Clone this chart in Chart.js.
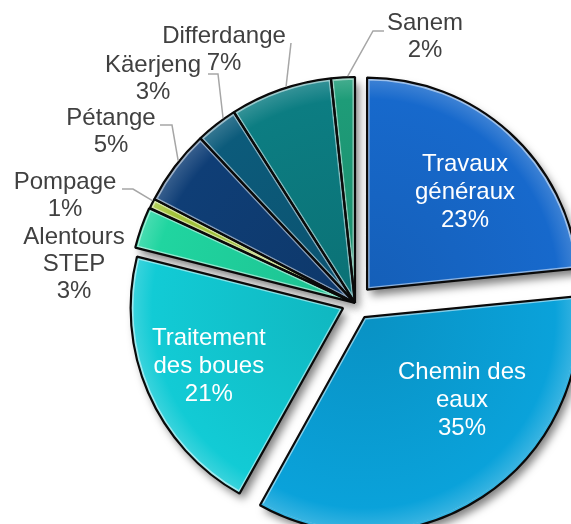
<!DOCTYPE html>
<html>
<head>
<meta charset="utf-8">
<script src="https://cdn.jsdelivr.net/npm/chart.js@4/dist/chart.umd.min.js"></script>
<style>
  html, body { margin: 0; padding: 0; background: #fff; overflow: hidden; }
  canvas { display: block; }
</style>
</head>
<body>
<canvas id="pie" width="571" height="524"></canvas>
<script>
// catégories (lignes du libellé) et parts, dans l'ordre horaire depuis midi
const CATEGORIES = [
  ["Travaux", "généraux"],
  ["Chemin des", "eaux"],
  ["Traitement", "des boues"],
  ["Alentours", "STEP"],
  ["Pompage"],
  ["Pétange"],
  ["Käerjeng"],
  ["Differdange"],
  ["Sanem"],
];
const SHARES = [23.4, 34.7, 20.8, 3.0, 0.7, 5.4, 3.0, 7.3, 1.7];

// style
const FILLS = ["#1769cc", "#0aa2da", "#12cbd5", "#20d5a0", "#a3c43b", "#0f3e76", "#0c5b7b", "#0c7d82", "#1e9c78"];
const EXPLODE = [72, 68, 52, 8, 0, 0, 0, 0, 0];
const SLICE_R = [212, 212, 212, 223, 226, 226, 226, 226, 226];
const FONT = '24px "Liberation Sans", Arial, sans-serif';

// placement des étiquettes
const INSIDE = {
  0: { turn: 3, dist: 0.652 },
  1: { turn: -16.4, dist: 0.604 },
  2: { turn: 0, dist: 0.69 },
};
const OUTSIDE = {
  3: { text: [-281, -66] },
  4: { text: [-290, -121], leader: [[-233, -114], [-222, -114]], at: 0.77 },
  5: { text: [-244, -185], leader: [[-195, -178], [-183, -178]], at: 0.59 },
  6: { text: [-202, -238], leader: [[-147, -229], [-137, -229]], at: 0.71 },
  7: { text: [-131, -267], leader: [[-64, -260]], at: 0.56 },
  8: { text: [70, -280], leader: [[29, -272], [18, -272]], at: 0.7 },
};

function shade(hex, amt) {
  const n = parseInt(hex.slice(1), 16);
  const ch = [(n >> 16) & 255, (n >> 8) & 255, n & 255].map((c) =>
    Math.round(amt >= 0 ? c + (255 - c) * amt : c * (1 + amt))
  );
  return `rgb(${ch[0]},${ch[1]},${ch[2]})`;
}

const total = SHARES.reduce((a, b) => a + b, 0);

const fx = {
  id: "fx",
  afterDatasetsUpdate(chart) {
    chart.getDatasetMeta(0).data.forEach((arc, i) => { arc.outerRadius = SLICE_R[i]; });
  },
  beforeDatasetsDraw(chart) {
    // ombre portée : une passe sous les secteurs
    const ctx = chart.ctx;
    chart.getDatasetMeta(0).data.forEach((arc) => {
      ctx.save();
      ctx.shadowColor = "rgba(0,0,0,0.5)";
      ctx.shadowBlur = 9;
      ctx.shadowOffsetX = 4;
      ctx.shadowOffsetY = 6;
      arc.draw(ctx);
      ctx.restore();
    });
  },
  afterDatasetsDraw(chart) {
    const ctx = chart.ctx;
    const arcs = chart.getDatasetMeta(0).data;

    // contour noir
    arcs.forEach((arc) => {
      const saved = arc.options;
      arc.options = Object.assign({}, saved, {
        backgroundColor: "rgba(0,0,0,0)", borderColor: "#0a0a0a", borderWidth: 2.2, borderAlign: "center",
      });
      arc.draw(ctx);
      arc.options = saved;
    });

    ctx.save();
    ctx.font = FONT;
    ctx.textAlign = "center";
    ctx.textBaseline = "middle";
    arcs.forEach((arc, i) => {
      const lines = [...CATEGORIES[i], Math.round((SHARES[i] / total) * 100) + "%"];
      const mid = (arc.startAngle + arc.endAngle) / 2;
      if (INSIDE[i]) {
        const shift = EXPLODE[i] / 4;
        const ox = arc.x + Math.cos(mid) * shift;
        const oy = arc.y + Math.sin(mid) * shift;
        const a = mid + (INSIDE[i].turn * Math.PI) / 180;
        const d = INSIDE[i].dist * arc.outerRadius;
        const x = ox + Math.cos(a) * d;
        const y = oy + Math.sin(a) * d;
        ctx.fillStyle = "#fff";
        lines.forEach((t, k) => ctx.fillText(t, x, y + (k - (lines.length - 1) / 2) * 28));
      } else {
        const o = OUTSIDE[i];
        if (o.leader) {
          const a = arc.startAngle + o.at * (arc.endAngle - arc.startAngle);
          const r = arc.outerRadius + 1;
          ctx.beginPath();
          o.leader.forEach((p, k) => {
            if (k === 0) ctx.moveTo(arc.x + p[0], arc.y + p[1]);
            else ctx.lineTo(arc.x + p[0], arc.y + p[1]);
          });
          ctx.lineTo(arc.x + Math.cos(a) * r, arc.y + Math.sin(a) * r);
          ctx.strokeStyle = "#a6a6a6";
          ctx.lineWidth = 1.5;
          ctx.stroke();
        }
        ctx.fillStyle = "#404040";
        lines.forEach((t, k) => ctx.fillText(t, arc.x + o.text[0], arc.y + o.text[1] + k * 27));
      }
    });
    ctx.restore();
  },
};

new Chart(document.getElementById("pie"), {
  type: "pie",
  data: {
    labels: CATEGORIES,
    datasets: [
      {
        data: SHARES,
        offset: EXPLODE,
        backgroundColor(c) {
          const base = FILLS[c.dataIndex];
          const area = c.chart.chartArea;
          if (!area || base === undefined) return base;
          const cx = (area.left + area.right) / 2;
          const cy = (area.top + area.bottom) / 2;
          const r = SLICE_R[c.dataIndex];
          const g = c.chart.ctx.createRadialGradient(cx, cy, 0, cx, cy, r);
          g.addColorStop(0, shade(base, -0.1));
          g.addColorStop(0.9, base);
          g.addColorStop(1, shade(base, 0.18));
          return g;
        },
        borderColor: "rgba(255,255,255,0.5)",
        borderWidth: 2.5,
        borderAlign: "inner",
        hoverOffset: 0,
        clip: false,
      },
    ],
  },
  options: {
    responsive: false,
    animation: false,
    events: [],
    radius: 226,
    rotation: 0,
    layout: { padding: { left: 139, top: 82, right: 0, bottom: 0 } },
    plugins: { legend: { display: false }, tooltip: { enabled: false } },
  },
  plugins: [fx],
});
</script>
</body>
</html>
